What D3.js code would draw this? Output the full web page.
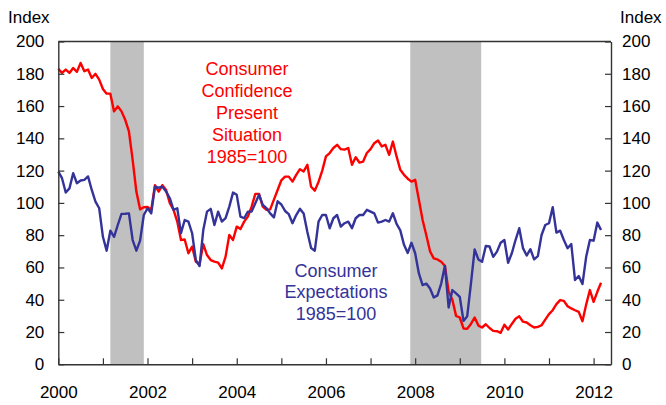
<!DOCTYPE html>
<html>
<head>
<meta charset="utf-8">
<script src="https://cdn.jsdelivr.net/npm/d3@7"></script>
<style>
  body { margin: 0; background: #fff; }
  text { font-family: "Liberation Sans", Arial, sans-serif; }
</style>
</head>
<body>
<script>
// monthly values, Jan 2000 .. Mar 2012
const startYear = 2000;

const presentSituation = [
  183, 180.5, 182.6, 180.5, 183.6, 181.2, 186.7, 181.6, 182.6, 177.4, 180, 176.4,
  170.6, 167.7, 167.7, 156.7, 159.8, 156.7, 151.5, 144.3, 126.7, 107, 96, 97.3,
  97.5, 95.7, 111, 107, 111, 108, 99.8, 95.7, 88.4, 77, 77.3, 68.8,
  72.9, 63.6, 62.1, 74.5, 67.7, 64.6, 63.6, 63, 59.4, 66.7, 80.1, 77,
  85.3, 83.8, 88.4, 91.5, 97.7, 105.6, 105.6, 97.7, 95.7, 96, 102, 108,
  114, 116.3, 116.3, 113.2, 117.4, 120.9, 119.5, 123.6, 110, 107.6, 113, 120,
  128.8, 130.9, 134, 136, 133.3, 133, 134, 123.6, 128.3, 125, 125.6, 130.9,
  133.3, 137, 138.7, 135, 136, 129.8, 138, 128.8, 120.5, 117.4, 115, 113.2,
  114.3, 101.9, 89.4, 80, 70, 65.6, 65, 63.5, 61, 45, 40, 30,
  29, 22.2, 22, 25, 29, 24, 22.8, 24.8, 22.5, 20.7, 20.5, 19.5,
  24.5, 21.5, 25, 28.2, 29.7, 26.4, 25.9, 24.2, 22.8, 23.2, 24.2, 27.7,
  31.1, 33.5, 37.3, 39.8, 39.3, 36, 34.6, 33.5, 32.5, 26.7, 37, 46,
  38.7, 44.9, 50.5
];

const expectations = [
  119.4, 115.3, 106.4, 109, 118.4, 112.2, 113.9, 114.3, 116.4, 108, 100.8, 96.7,
  79, 70.4, 82.8, 79, 86.3, 93.2, 93.3, 93.5, 77, 70.4, 76.6, 92.5,
  96.7, 93.5, 110, 109.5, 110, 107, 102.9, 95.7, 96.7, 81.2, 89.4, 88.4,
  81.2, 64.6, 60.9, 83.2, 94.6, 96.3, 86.3, 94.6, 88.4, 90.5, 97.7, 106.4,
  105, 91.5, 90.5, 94.6, 94.6, 99.8, 105, 98.8, 96.7, 93.5, 91, 101,
  99, 95, 93, 87.4, 92.5, 96.3, 93.5, 82, 72, 70.4, 88.4, 92.5,
  92.5, 84.3, 90.5, 92.5, 85.3, 87.4, 88.4, 84.3, 90.5, 92.5, 92.5, 95.7,
  94.6, 93.5, 87.8, 88.4, 89.4, 88.4, 93.6, 87, 83, 74, 69, 75.3,
  68.8, 56.3, 49.1, 50, 47, 41.4, 42.7, 50, 61, 35.2, 46, 44,
  41.8, 26.9, 29.8, 50, 71.2, 65, 63.5, 73.3, 73, 66.6, 69.8, 75.3,
  77, 62.9, 68.8, 77, 84.3, 72, 67.4, 71.3, 65, 67, 80.1, 86.3,
  87.4, 97.3, 81.6, 82.8, 77, 71.9, 74.5, 52.2, 54.7, 49.7, 66.6, 77,
  76.6, 87.8, 83.2
];

// recession periods (decimal years)
const recessions = [[2001.167, 2001.917], [2007.89, 2009.48]];

const yTicks = [0, 20, 40, 60, 80, 100, 120, 140, 160, 180, 200];
const yearTicks = [2000, 2001, 2002, 2003, 2004, 2005, 2006, 2007, 2008, 2009, 2010, 2011, 2012];
const yearLabels = [2000, 2002, 2004, 2006, 2008, 2010, 2012];

const presentLabel = ["Consumer", "Confidence", "Present", "Situation", "1985=100"];
const expectLabel = ["Consumer", "Expectations", "1985=100"];

const red = "#ff0000", blue = "#333399", axisColor = "#333";

let svg = d3.select("body").append("svg")
    .attr("width", 666)
    .attr("height", 405);

let x = d3.scaleLinear().domain([2000, 2012.39]).range([58.3, 611]);
let y = d3.scaleLinear().domain([0, 200]).range([364.3, 41.5]);

// shaded recessions
svg.append("g").selectAll("rect")
    .data(recessions)
    .enter().append("rect")
    .attr("x", d => x(d[0]))
    .attr("width", d => x(d[1]) - x(d[0]))
    .attr("y", y(200))
    .attr("height", y(0) - y(200))
    .attr("fill", "#c0c0c0");

let line = d3.line()
    .x((d, i) => x(startYear + i / 12))
    .y(d => y(d));

svg.append("path")
    .datum(presentSituation)
    .attr("d", line)
    .attr("fill", "none")
    .attr("stroke", red)
    .attr("stroke-width", 2.4)
    .attr("stroke-linejoin", "round");

svg.append("path")
    .datum(expectations)
    .attr("d", line)
    .attr("fill", "none")
    .attr("stroke", blue)
    .attr("stroke-width", 2.4)
    .attr("stroke-linejoin", "round");

// axes, ticks point inward
let leftAxis = d3.axisLeft(y).tickValues(yTicks).tickSize(-6).tickSizeOuter(0).tickPadding(14);
let rightAxis = d3.axisRight(y).tickValues(yTicks).tickSize(-6).tickSizeOuter(0).tickPadding(11);
let bottomAxis = d3.axisBottom(x).tickValues(yearTicks).tickSize(-6).tickSizeOuter(0).tickPadding(22)
    .tickFormat(d => yearLabels.includes(d) ? d : "");

function styleAxis(g) {
    g.select(".domain").attr("stroke", axisColor).attr("stroke-width", 1.4);
    g.selectAll(".tick line").attr("stroke", axisColor).attr("stroke-width", 1.2);
    g.selectAll(".tick text").attr("fill", "#000").style("font-size", "17px")
        .style("font-family", "'Liberation Sans', Arial, sans-serif");
}

svg.append("g").attr("transform", "translate(" + x(2000) + ",0)").call(leftAxis).call(styleAxis);
svg.append("g").attr("transform", "translate(" + x.range()[1] + ",0)").call(rightAxis).call(styleAxis);
svg.append("g").attr("transform", "translate(0," + y(0) + ")").call(bottomAxis).call(styleAxis);

// top border
svg.append("line")
    .attr("x1", x.range()[0]).attr("x2", x.range()[1])
    .attr("y1", y(200)).attr("y2", y(200))
    .attr("stroke", axisColor).attr("stroke-width", 1.4);

// axis titles
svg.append("text").attr("x", 8).attr("y", 23).text("Index").style("font-size", "17px");
svg.append("text").attr("x", 620).attr("y", 23).text("Index").style("font-size", "17px");

// series annotations
svg.append("text")
    .attr("text-anchor", "middle")
    .attr("fill", red)
    .style("font-size", "18px")
    .selectAll("tspan")
    .data(presentLabel)
    .enter().append("tspan")
    .attr("x", 247)
    .attr("y", (d, i) => 74.5 + i * 22.1)
    .text(d => d);

svg.append("text")
    .attr("text-anchor", "middle")
    .attr("fill", blue)
    .style("font-size", "18px")
    .selectAll("tspan")
    .data(expectLabel)
    .enter().append("tspan")
    .attr("x", 336)
    .attr("y", (d, i) => 276.5 + i * 21.7)
    .text(d => d);
</script>
</body>
</html>
